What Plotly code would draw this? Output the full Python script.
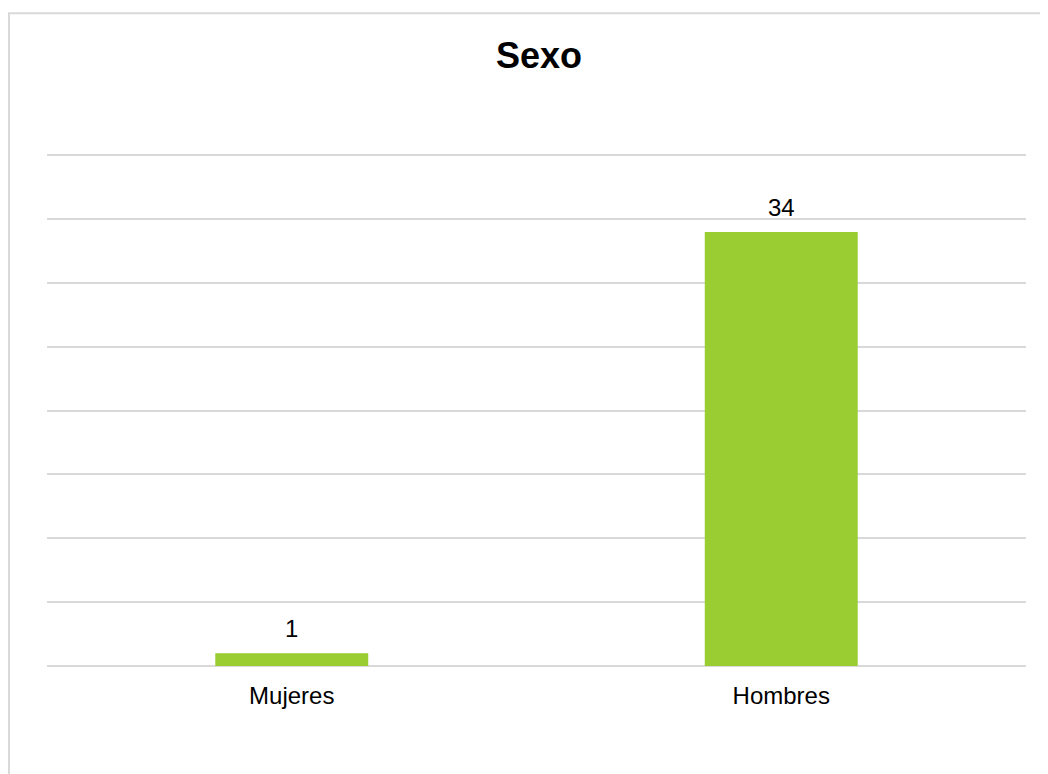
import plotly.graph_objects as go

categories = ["Mujeres", "Hombres"]
values = [1, 34]
title_text = "Sexo"

# page offset from body margin
OFF = 8
W, H = 1048 - OFF, 774 - OFF
ml, mr = 47 - OFF, 22
ymax = 40.1
px_per_unit = (666 - 155) / 40.0
top_px = 666 - ymax * px_per_unit
mt = top_px - OFF
mb = H - (666 - OFF)
pw = W - ml - mr
ph = H - mt - mb

def px_x(p):
    return (p - OFF - ml) / pw

def px_y(p):
    return (H - mb - (p - OFF)) / ph

fig = go.Figure()
fig.add_trace(go.Bar(
    x=categories, y=values,
    marker=dict(color="#9ACD32", line=dict(width=0)),
    width=0.3125,
    hoverinfo="skip",
))

for c, v in zip(categories, values):
    fig.add_annotation(x=c, y=v, xref="x", yref="y", text=str(v), showarrow=False,
                       yanchor="bottom", yshift=9,
                       font=dict(family="Liberation Sans, Arial", size=24, color="#000000"))

fig.update_layout(
    width=W, height=H,
    margin=dict(l=ml, r=mr, t=mt, b=mb),
    paper_bgcolor="white", plot_bgcolor="white",
    showlegend=False,
    bargap=0.6875,
    title=dict(text="<b>" + title_text + "</b>", x=px_x(539), xanchor="center", xref="paper",
               y=1 - (55 - OFF) / H, yanchor="middle",
               font=dict(family="Liberation Sans, Arial", size=36, color="#000000")),
    xaxis=dict(showgrid=False, showline=False, ticks="", zeroline=False,
               tickfont=dict(family="Liberation Sans, Arial", size=24, color="#000000"),
               ticklabelstandoff=13),
    yaxis=dict(range=[0, ymax], dtick=5, showgrid=True, gridcolor="#d9d9d9", gridwidth=1.5,
               zeroline=True, zerolinecolor="#d9d9d9", zerolinewidth=1.5,
               showticklabels=False, ticks="", showline=False),
    shapes=[dict(type="rect", xref="paper", yref="paper",
                 x0=px_x(9), x1=px_x(1060), y0=px_y(800), y1=px_y(13),
                 line=dict(color="#d9d9d9", width=2), fillcolor="rgba(0,0,0,0)", layer="below")],
)

fig.write_html("out.html")
